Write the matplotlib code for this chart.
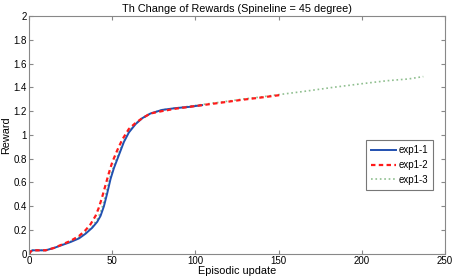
import numpy as np
import matplotlib.pyplot as plt

plt.rcParams['font.family'] = ['Liberation Sans', 'DejaVu Sans']

# exp1-1 (blue, solid)
x1 = [0, 1, 2, 5, 10, 15, 20, 25, 30, 34, 38, 41, 43, 45, 47, 49, 51, 54, 57, 60, 64, 68, 73, 80, 88, 96, 104]
y1 = [0.0, 0.02, 0.03, 0.03, 0.03, 0.05, 0.075, 0.1, 0.13, 0.17, 0.22, 0.27, 0.32, 0.4, 0.51, 0.63, 0.72, 0.83, 0.94, 1.02, 1.09, 1.14, 1.18, 1.21, 1.225, 1.235, 1.25]

# exp1-2 (red, dashed)
x2 = [0, 1, 2, 5, 10, 15, 20, 25, 30, 34, 37, 40, 42, 44, 46, 48, 50, 53, 56, 60, 64, 68, 73, 80, 88, 96, 104, 115, 128, 140, 151]
y2 = [0.0, 0.02, 0.03, 0.03, 0.03, 0.05, 0.08, 0.11, 0.15, 0.2, 0.25, 0.32, 0.39, 0.48, 0.58, 0.68, 0.77, 0.87, 0.96, 1.05, 1.1, 1.14, 1.18, 1.2, 1.22, 1.235, 1.25, 1.27, 1.295, 1.315, 1.335]

# exp1-3 (green, dotted)
x3 = [0, 1, 2, 5, 10, 15, 20, 25, 30, 34, 38, 41, 43, 45, 47, 49, 51, 54, 57, 60, 64, 68, 73, 80, 88, 96, 104, 115, 128, 140, 151, 165, 183, 200, 215, 228, 237]
y3 = [0.0, 0.02, 0.03, 0.03, 0.03, 0.05, 0.078, 0.105, 0.14, 0.18, 0.23, 0.29, 0.35, 0.44, 0.55, 0.66, 0.74, 0.85, 0.95, 1.03, 1.095, 1.14, 1.18, 1.21, 1.225, 1.24, 1.255, 1.275, 1.3, 1.32, 1.34, 1.365, 1.4, 1.43, 1.455, 1.47, 1.49]

fig = plt.figure(figsize=(4.54, 2.79), dpi=100)
ax = fig.add_axes([0.064, 0.09, 0.916, 0.853])

ax.plot(x3, y3, color='#8fbf8f', linestyle=':', linewidth=1.2, label='exp1-3')
ax.plot(x1, y1, color='#2150b0', linestyle='-', linewidth=1.4, label='exp1-1')
ax.plot(x2, y2, color='#ff1a1a', linestyle='--', linewidth=1.6, dashes=(2, 1.5), label='exp1-2')

ax.set_xlim(0, 250)
ax.set_ylim(0, 2)
ax.set_xticks([0, 50, 100, 150, 200, 250])
ax.set_yticks(np.arange(0, 2.01, 0.2))
ax.set_yticklabels(['0', '0.2', '0.4', '0.6', '0.8', '1', '1.2', '1.4', '1.6', '1.8', '2'])
ax.tick_params(direction='in', top=True, right=True, labelsize=7, length=3, pad=1.5, color='#888888')
for s in ax.spines.values():
    s.set_color('#888888')
    s.set_linewidth(0.8)

ax.set_title('Th Change of Rewards (Spineline = 45 degree)', fontsize=7.8, pad=3)
ax.set_xlabel('Episodic update', fontsize=7.8, labelpad=0)
ax.set_ylabel('Reward', fontsize=7.8, labelpad=2)

h, l = ax.get_legend_handles_labels()
order = [1, 2, 0]
leg = ax.legend([h[i] for i in order], [l[i] for i in order], loc='lower right',
                bbox_to_anchor=(0.972, 0.27), fontsize=7, frameon=True, fancybox=False,
                edgecolor='#555555', handlelength=2.6, handletextpad=0.3, borderpad=0.5,
                labelspacing=0.5, borderaxespad=0)
leg.get_frame().set_linewidth(0.8)

fig.savefig('out.png', dpi=100)
